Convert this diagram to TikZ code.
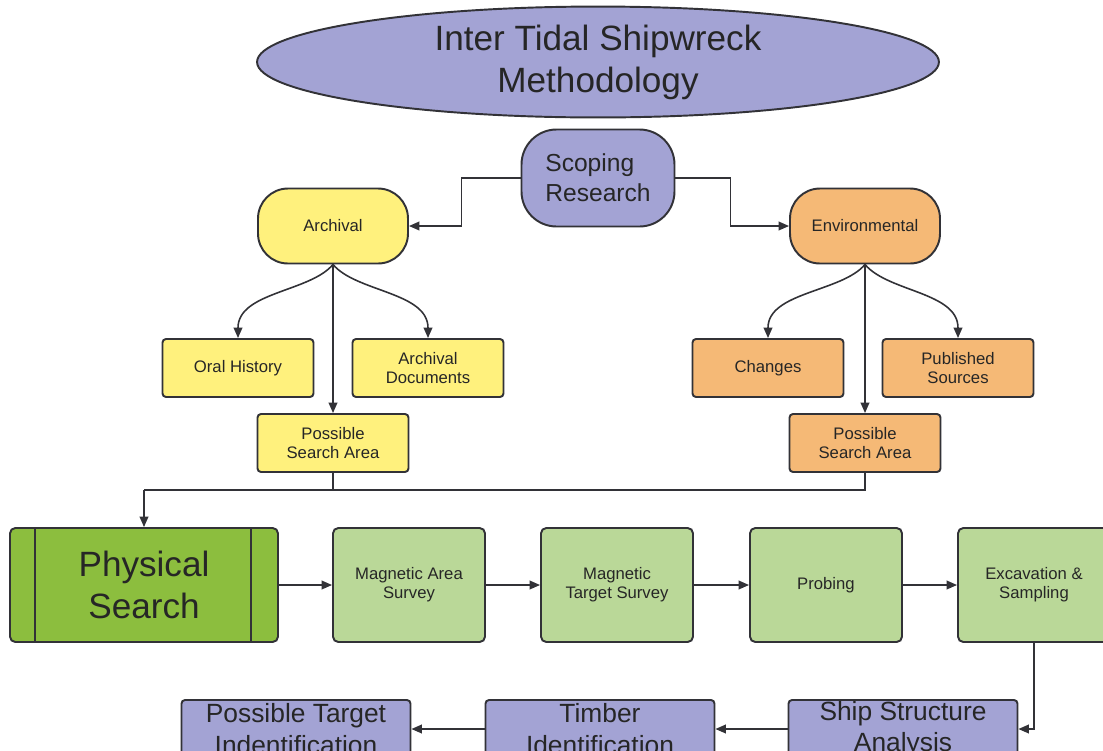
\documentclass[tikz,border=0pt]{standalone}
\usepackage{fontspec}
\setmainfont{Liberation Sans}
\usetikzlibrary{arrows.meta, positioning, calc, shapes.geometric}
\definecolor{wreckLilac} {RGB}{163,163,212}
\definecolor{wreckYellow}{RGB}{255,241,125}
\definecolor{wreckOrange}{RGB}{245,185,118}
\definecolor{wreckGreen} {RGB}{140,190, 62}
\definecolor{wreckLeaf}  {RGB}{186,216,152}
\definecolor{wreckLine}  {RGB}{ 50, 50, 55}
\newcommand{\fsSmall}{\fontsize{9.5}{11}\selectfont}

\begin{document}
\begin{tikzpicture}[
  x=0.02cm, y=-0.02cm,
  base/.style={draw=wreckLine, line width=1.1pt, align=center, text=black!85,
    inner sep=1pt},
  small/.style={base, rectangle, rounded corners=2pt, font=\fsSmall,
    minimum width=3.02cm, minimum height=1.16cm},
  tall/.style={base, rectangle, rounded corners=3pt, font=\fsSmall,
    fill=wreckLeaf, minimum width=3.04cm, minimum height=2.28cm},
  low/.style={base, rectangle, rounded corners=2pt, inner ysep=0pt,
    font=\fontsize{15}{18}\selectfont, fill=wreckLilac,
    minimum width=4.58cm, minimum height=1.16cm},
  branch/.style={base, rectangle, rounded corners=0.6cm, font=\fsSmall,
    minimum width=3.0cm, minimum height=1.5cm},
  arr/.style={draw=wreckLine, line width=0.9pt,
    -{Triangle[length=6pt,width=5pt]}},
  ln/.style={draw=wreckLine, line width=0.9pt},
]
\useasboundingbox (0,0) rectangle (1103,751);
\clip (0,0) rectangle (1103,751);
\fill[white] (0,0) rectangle (1103,751);

%% ── Title & scoping ─────────────────────────────────────────────────────────
\node[base, ellipse, fill=wreckLilac, minimum width=13.64cm, minimum height=1.9cm,
      font=\fontsize{20}{24}\selectfont] (title) at (598,62)
  {Inter Tidal Shipwreck\\Methodology};
\node[base, rectangle, rounded corners=0.7cm, fill=wreckLilac, align=left,
      minimum width=3.06cm, minimum height=1.94cm,
      font=\fontsize{14}{17}\selectfont] (scope) at (598,178)
  {Scoping\\Research};

%% ── Archival branch ─────────────────────────────────────────────────────────
\node[branch, fill=wreckYellow] (arch) at (333,226) {Archival};
\node[small,  fill=wreckYellow] (oral) at (238,368) {Oral History};
\node[small,  fill=wreckYellow] (docs) at (428,368) {Archival\\Documents};
\node[small,  fill=wreckYellow] (psaL) at (333,443) {Possible\\Search Area};

%% ── Environmental branch ────────────────────────────────────────────────────
\node[branch, fill=wreckOrange] (env)  at (865,226) {Environmental};
\node[small,  fill=wreckOrange] (chg)  at (768,368) {Changes};
\node[small,  fill=wreckOrange] (pub)  at (958,368) {Published\\Sources};
\node[small,  fill=wreckOrange] (psaR) at (865,443) {Possible\\Search Area};

%% ── Physical search row ─────────────────────────────────────────────────────
\node[base, rectangle, rounded corners=3pt, fill=wreckGreen,
      minimum width=5.36cm, minimum height=2.28cm,
      font=\fontsize{20}{24}\selectfont] (phys) at (144,585) {Physical\\Search};
\draw[ln] ([xshift=0.52cm]phys.north west) -- ([xshift=0.52cm]phys.south west);
\draw[ln] ([xshift=-0.56cm]phys.north east) -- ([xshift=-0.56cm]phys.south east);
\node[tall] (magA)  at (409,585)  {Magnetic Area\\Survey};
\node[tall] (magT)  at (617,585)  {Magnetic\\Target Survey};
\node[tall] (probe) at (826,585)  {Probing};
\node[tall] (exc)   at (1034,585) {Excavation \&\\Sampling};

%% ── Analysis row ────────────────────────────────────────────────────────────
\node[low] (ship)   at (903,729) {Ship Structure\\Analysis};
\node[low] (timber) at (600,729) {Timber\\Identification};
\node[low] (target) at (296,729) {Possible Target\\Indentification};

%% ── Connectors ──────────────────────────────────────────────────────────────
\draw[arr] (scope.west) -- ++(-59,0) |- (arch.east);
\draw[arr] (scope.east) -- ++(55,0) |- (env.west);

\draw[arr] (arch.south) .. controls (310,292) and (238,292) .. (oral.north);
\draw[arr] (arch.south) .. controls (356,292) and (428,292) .. (docs.north);
\draw[arr] (arch.south) -- (psaL.north);
\draw[arr] (env.south) .. controls (842,292) and (768,292) .. (chg.north);
\draw[arr] (env.south) .. controls (888,292) and (958,292) .. (pub.north);
\draw[arr] (env.south) -- (psaR.north);

\coordinate (join) at (phys.north |- 0,490);
\draw[ln]  (psaR.south) |- (join);
\draw[ln]  (psaL.south) |- (join);
\draw[arr] (join) -- (phys.north);

\draw[arr] (phys.east)  -- (magA.west);
\draw[arr] (magA.east)  -- (magT.west);
\draw[arr] (magT.east)  -- (probe.west);
\draw[arr] (probe.east) -- (exc.west);
\draw[arr] (exc.south)  |- (ship.east);
\draw[arr] (ship.west)  -- (timber.east);
\draw[arr] (timber.west) -- (target.east);

\end{tikzpicture}
\end{document}
